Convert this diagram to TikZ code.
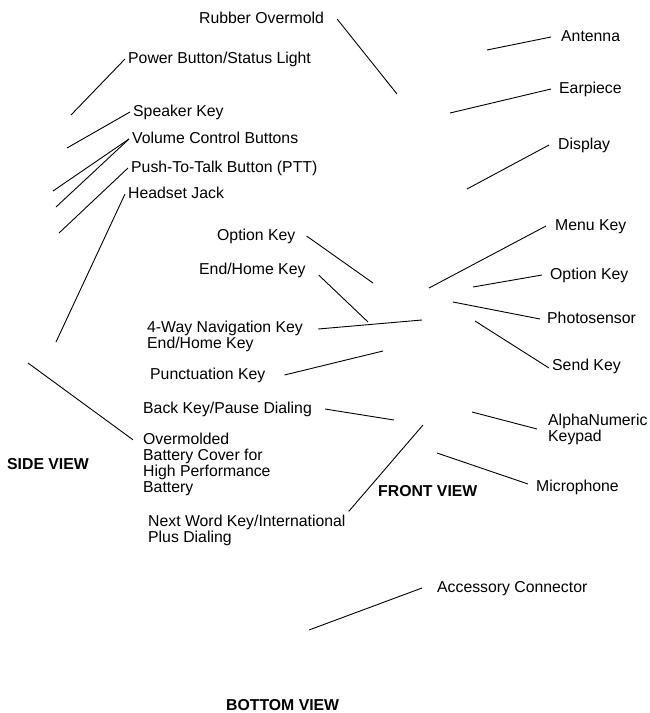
\documentclass[tikz,border=0pt]{standalone}
\usepackage{fontspec}
\setmainfont{Liberation Sans}
\usetikzlibrary{calc}

\begin{document}
\begin{tikzpicture}[x=1pt,y=-1pt,
		lbl/.style={anchor=west,inner sep=3pt,text height=11.5pt,text depth=3.3pt,font=\fontsize{15.8}{16}\selectfont},
		mlbl/.style={anchor=west,inner sep=3pt,align=left,font=\fontsize{15.8}{16}\selectfont},
		view/.style={lbl,font=\fontsize{15.8}{16}\selectfont\bfseries},
		lead/.style={line width=0.9pt}]
		%%%%% START %%%%%
		\useasboundingbox (0,0) rectangle (650,713);
		
		%%%%% side view labels
		\node[lbl] (rub) at (196,19) {Rubber Overmold};
		\node[lbl] (pwr) at (125,59) {Power Button/Status Light};
		\node[lbl] (spk) at (130,112) {Speaker Key};
		\node[lbl] (vol) at (129,139) {Volume Control Buttons};
		\node[lbl] (ptt) at (128,168) {Push-To-Talk Button (PTT)};
		\node[lbl] (hs) at (125,194) {Headset Jack};
		\node[mlbl] (batt) at (140,464) {Overmolded\\Battery Cover for\\High Performance\\Battery};
		\node[view] (side) at (4,465) {SIDE VIEW};
		
		\coordinate (pwrP) at (71,115);
		\coordinate (spkP) at (67,148);
		\coordinate (volP) at (53,191);
		\coordinate (volQ) at (56,207);
		\coordinate (pttP) at (59,233);
		\coordinate (hsP) at (56,342);
		\coordinate (battP) at (28,363);
		\coordinate (battA) at ($(batt.north west)!0.15!(batt.south west)+(-7,0)$);
		
		\draw[lead] (pwr.west) -- (pwrP);
		\draw[lead] (spk.west) -- (spkP);
		\draw[lead] (vol.west) -- (volP);
		\draw[lead] (vol.west) -- (volQ);
		\draw[lead] (ptt.west) -- (pttP);
		\draw[lead] (hs.west) -- (hsP);
		\draw[lead] (battA) -- (battP);
		
		%%%%% front view, left labels
		\node[lbl] (optl) at (214,236) {Option Key};
		\node[lbl] (endl) at (196,270) {End/Home Key};
		\node[mlbl] (nav) at (144,336) {4-Way Navigation Key\\End/Home Key};
		\node[lbl] (pun) at (147,375) {Punctuation Key};
		\node[lbl] (back) at (140,409) {Back Key/Pause Dialing};
		\node[mlbl] (next) at (145,530) {Next Word Key/International\\Plus Dialing};
		
		\coordinate (rubP) at (397,94);
		\coordinate (optlP) at (373,283);
		\coordinate (endlP) at (368,322);
		\coordinate (navP) at (422,320);
		\coordinate (punP) at (383,351);
		\coordinate (backP) at (394,420);
		\coordinate (nextP) at (423,425);
		
		\draw[lead] ([xshift=10pt]rub.east) -- (rubP);
		\draw[lead] ([xshift=8pt]optl.east) -- (optlP);
		\draw[lead] ([xshift=10pt,yshift=-5pt]endl.east) -- (endlP);
		\draw[lead] ([xshift=12pt,yshift=7pt]nav.east) -- (navP);
		\draw[lead] ([xshift=16pt]pun.east) -- (punP);
		\draw[lead] ([xshift=10pt]back.east) -- (backP);
		\draw[lead] (next.north east) -- (nextP);
		
		%%%%% front view, right labels
		\node[lbl] (ant) at (558,37) {Antenna};
		\node[lbl] (ear) at (556,89) {Earpiece};
		\node[lbl] (disp) at (555,145) {Display};
		\node[lbl] (menu) at (552,226) {Menu Key};
		\node[lbl] (optr) at (547,275) {Option Key};
		\node[lbl] (photo) at (544,319) {Photosensor};
		\node[lbl] (send) at (549,366) {Send Key};
		\node[mlbl] (alpha) at (545,429) {AlphaNumeric\\Keypad};
		\node[lbl] (mic) at (533,487) {Microphone};
		\node[view] (front) at (375,492) {FRONT VIEW};
		
		\coordinate (antP) at (487,50);
		\coordinate (earP) at (450,113);
		\coordinate (dispP) at (467,189);
		\coordinate (menuP) at (429,288);
		\coordinate (optrP) at (473,287);
		\coordinate (photoP) at (453,302);
		\coordinate (sendP) at (475,321);
		\coordinate (alphaP) at (472,412);
		\coordinate (micP) at (437,453);
		
		\draw[lead] ([xshift=-7pt]ant.west) -- (antP);
		\draw[lead] ([xshift=-5pt]ear.west) -- (earP);
		\draw[lead] ([xshift=-6pt]disp.west) -- (dispP);
		\draw[lead] ([xshift=-6pt]menu.west) -- (menuP);
		\draw[lead] ([xshift=-5pt]optr.west) -- (optrP);
		\draw[lead] ([xshift=-4pt]photo.west) -- (photoP);
		\draw[lead] ([yshift=-2pt]send.west) -- (sendP);
		\draw[lead] ([xshift=-8pt]alpha.west) -- (alphaP);
		\draw[lead] ([xshift=-5pt,yshift=3pt]mic.west) -- (micP);
		
		%%%%% bottom view
		\node[lbl] (acc) at (434,588) {Accessory Connector};
		\node[view] (bottom) at (223,706) {BOTTOM VIEW};
		\coordinate (accP) at (309,630);
		\draw[lead] ([xshift=-12pt]acc.west) -- (accP);
		%%%%% END %%%%%
\end{tikzpicture}
\end{document}
